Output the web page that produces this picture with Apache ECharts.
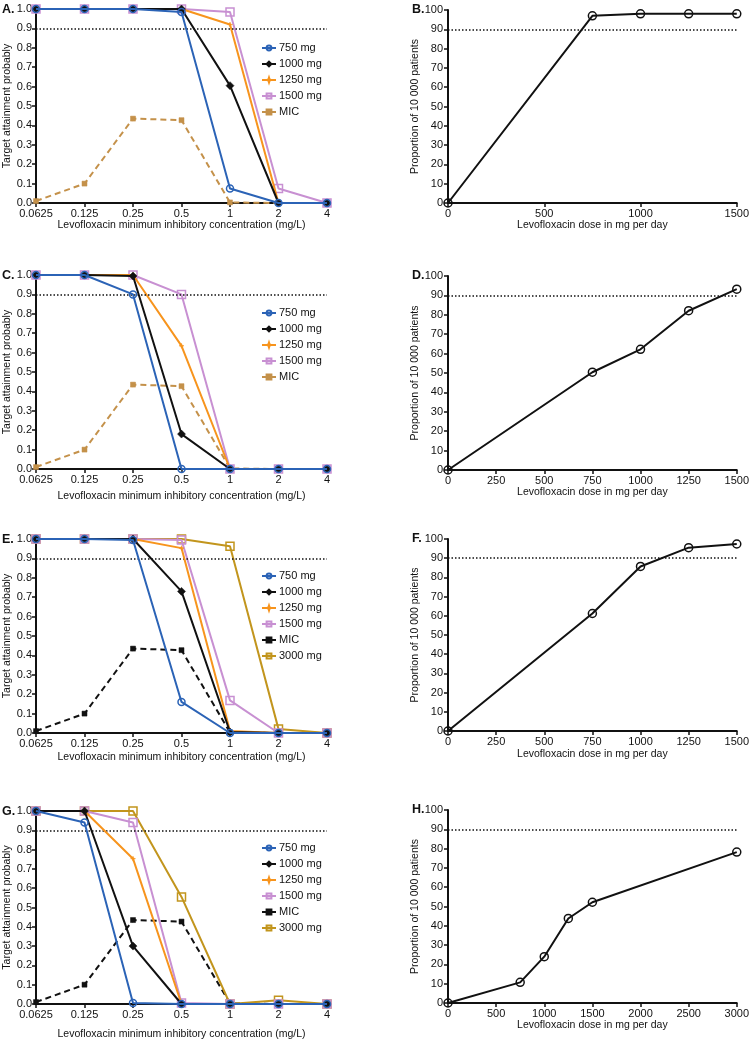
<!DOCTYPE html>
<html><head><meta charset="utf-8">
<script src="https://cdn.jsdelivr.net/npm/echarts@6/dist/echarts.min.js"></script>
<style>html,body{margin:0;padding:0;background:#fff}#c{width:752px;height:1041px}</style>
</head><body><div id="c"></div>
<script>
// ---------- DATA ----------
const micCategories = ['0.0625', '0.125', '0.25', '0.5', '1', '2', '4'];
const micDistribution = [0.01, 0.10, 0.435, 0.427, 0.003, 0, 0];

// Panel A
const a750 = [1, 1, 1, 0.985, 0.075, 0, 0];
const a1000 = [1, 1, 1, 1, 0.605, 0, 0];
const a1250 = [1, 1, 1, 1, 0.92, 0, 0];
const a1500 = [1, 1, 1, 1, 0.985, 0.075, 0];
// Panel C
const c750 = [1, 1, 0.9, 0, 0, 0, 0];
const c1000 = [1, 1, 0.995, 0.18, 0, 0, 0];
const c1250 = [1, 1, 1, 0.635, 0, 0, 0];
const c1500 = [1, 1, 1, 0.9, 0, 0, 0];
// Panel E
const e750 = [1, 1, 0.995, 0.16, 0, 0, 0];
const e1000 = [1, 1, 1, 0.73, 0.005, 0, 0];
const e1250 = [1, 1, 1, 0.953, 0.01, 0, 0];
const e1500 = [1, 1, 1, 0.995, 0.168, 0, 0];
const e3000 = [1, 1, 1, 1, 0.963, 0.02, 0];
// Panel G
const g750 = [1, 0.94, 0.005, 0, 0, 0, 0];
const g1000 = [1, 1, 0.3, 0, 0, 0, 0];
const g1250 = [1, 1, 0.753, 0, 0, 0, 0];
const g1500 = [1, 1, 0.94, 0.005, 0, 0, 0];
const g3000 = [1, 1, 1, 0.555, 0, 0.02, 0];

// Right panels: dose (mg/day) vs proportion of 10 000 patients
const doseB = [0, 750, 1000, 1250, 1500];
const propB = [0, 97, 98, 98, 98];
const doseD = [0, 750, 1000, 1250, 1500];
const propD = [0, 50.4, 62.2, 82.1, 93.2];
const doseF = [0, 750, 1000, 1250, 1500];
const propF = [0, 61.2, 85.7, 95.5, 97.4];
const doseH = [0, 750, 1000, 1250, 1500, 3000];
const propH = [0, 10.7, 24.0, 43.8, 52.2, 78.2];

const targetProb = 0.9;
const targetPct = 90;

// ---------- STYLE / LAYOUT ----------
const FONT = 'Liberation Sans, Arial, sans-serif';
const starPath = 'path://M0,-5 L1.2,-1.2 L5,0 L1.2,1.2 L0,5 L-1.2,1.2 L-5,0 L-1.2,-1.2 Z';
const styles = {
  '750 mg':  {color: '#2b63b6', symbol: 'circle', size: 7, hollow: true},
  '1000 mg': {color: '#111111', symbol: 'diamond', size: 8, hollow: false},
  '1250 mg': {color: '#f7941d', symbol: starPath, size: 5, hollow: false},
  '1500 mg': {color: '#c890d2', symbol: 'rect', size: 8, hollow: true},
  'MIC':     {color: '#c4914a', symbol: 'rect', size: 5, hollow: false, dashed: true},
  'MICk':    {color: '#111111', symbol: 'rect', size: 5, hollow: false, dashed: true},
  '3000 mg': {color: '#c2951d', symbol: 'rect', size: 8, hollow: true}
};

const leftGrids = [
  {id: 'A', top: 9, height: 194, legendTop: 42, nameGap: 15, data: [['MIC', micDistribution, 'MIC'], ['1500 mg', a1500], ['1250 mg', a1250], ['1000 mg', a1000], ['750 mg', a750]], legend: ['750 mg', '1000 mg', '1250 mg', '1500 mg', 'MIC']},
  {id: 'C', top: 275, height: 194, legendTop: 307, nameGap: 22, data: [['MIC', micDistribution, 'MIC'], ['1500 mg', c1500], ['1250 mg', c1250], ['1000 mg', c1000], ['750 mg', c750]], legend: ['750 mg', '1000 mg', '1250 mg', '1500 mg', 'MIC']},
  {id: 'E', top: 539, height: 194, legendTop: 570, nameGap: 19, data: [['MIC', micDistribution, 'MICk'], ['3000 mg', e3000], ['1500 mg', e1500], ['1250 mg', e1250], ['1000 mg', e1000], ['750 mg', e750]], legend: ['750 mg', '1000 mg', '1250 mg', '1500 mg', 'MIC', '3000 mg']},
  {id: 'G', top: 811, height: 193, legendTop: 842, nameGap: 25, data: [['MIC', micDistribution, 'MICk'], ['3000 mg', g3000], ['1500 mg', g1500], ['1250 mg', g1250], ['1000 mg', g1000], ['750 mg', g750]], legend: ['750 mg', '1000 mg', '1250 mg', '1500 mg', 'MIC', '3000 mg']}
];
const rightGrids = [
  {id: 'B', top: 10, height: 193, nameGap: 12, max: 1500, interval: 500, x: doseB, y: propB},
  {id: 'D', top: 276, height: 194, nameGap: 17, max: 1500, interval: 250, x: doseD, y: propD},
  {id: 'F', top: 539, height: 192, nameGap: 18, max: 1500, interval: 250, x: doseF, y: propF},
  {id: 'H', top: 810, height: 193, nameGap: 11, max: 3000, interval: 500, x: doseH, y: propH}
];

const axisLine = {show: true, lineStyle: {color: '#111', width: 2}};
const axisTick = {show: true, inside: false, length: 4, lineStyle: {color: '#111', width: 1.5}};
const tickLabel = {color: '#111', fontSize: 11, fontFamily: FONT};
const nameStyle = {color: '#111', fontSize: 10.5, fontFamily: FONT};
const dotted = {color: '#111', width: 1.5, type: [1.5, 2]};

const grid = [], xAxis = [], yAxis = [], series = [], legend = [], title = [];
let gi = 0;

leftGrids.forEach(p => {
  grid.push({left: 36, width: 291, top: p.top, height: p.height});
  xAxis.push({type: 'category', gridIndex: gi, data: micCategories, boundaryGap: false,
    axisLine, axisTick, splitLine: {show: false},
    axisLabel: Object.assign({interval: 0, margin: 5}, tickLabel),
    name: 'Levofloxacin minimum inhibitory concentration (mg/L)', nameLocation: 'middle', nameGap: p.nameGap, nameTextStyle: nameStyle});
  yAxis.push({type: 'value', gridIndex: gi, min: 0, max: 1, interval: 0.1,
    axisLine, axisTick, splitLine: {show: false},
    axisLabel: Object.assign({margin: 4, formatter: v => v.toFixed(1)}, tickLabel),
    name: 'Target attainment probably', nameLocation: 'middle', nameGap: 20, nameTextStyle: nameStyle});
  p.data.forEach((d, k) => {
    const st = styles[d[2] || d[0]];
    const s = {
      type: 'line', name: d[0] + '|' + p.id, xAxisIndex: gi, yAxisIndex: gi, data: d[1],
      symbol: st.symbol, symbolSize: st.size, showAllSymbol: true, clip: false,
      lineStyle: {color: st.color, width: 2, type: st.dashed ? [6, 4] : 'solid'},
      itemStyle: st.hollow ? {color: 'rgba(255,255,255,0)', borderColor: st.color, borderWidth: 1.5} : {color: st.color, borderColor: st.color, borderWidth: 0.5},
      emphasis: {disabled: true}, animation: false, z: 2 + k
    };
    if (k === 0) {
      s.markLine = {silent: true, symbol: ['none', 'none'], label: {show: false}, lineStyle: dotted,
        data: [{yAxis: targetProb}], animation: false};
    }
    series.push(s);
  });
  legend.push({orient: 'vertical', left: 261, top: p.legendTop, padding: 0, itemGap: 4,
    itemWidth: 14, itemHeight: 6, selectedMode: false,
    data: p.legend.map(n => n + '|' + p.id),
    formatter: n => n.split('|')[0],
    textStyle: {color: '#111', fontSize: 11, fontFamily: FONT, lineHeight: 12, padding: [0, 0, 0, -2]}});
  title.push({text: p.id + '.', left: 2, top: p.top - 6, padding: 0, textStyle: {fontSize: 12.5, fontWeight: 'bold', color: '#111', fontFamily: FONT}});
  gi++;
});

rightGrids.forEach(p => {
  grid.push({left: 448, width: 290, top: p.top, height: p.height});
  xAxis.push({type: 'value', gridIndex: gi, min: 0, max: p.max, interval: p.interval,
    axisLine, axisTick, splitLine: {show: false},
    axisLabel: Object.assign({margin: 5, formatter: v => String(v)}, tickLabel),
    name: 'Levofloxacin dose in mg per day', nameLocation: 'middle', nameGap: p.nameGap, nameTextStyle: nameStyle});
  yAxis.push({type: 'value', gridIndex: gi, min: 0, max: 100, interval: 10,
    axisLine, axisTick, splitLine: {show: false},
    axisLabel: Object.assign({margin: 5, formatter: v => String(v)}, tickLabel),
    name: 'Proportion of 10 000 patients', nameLocation: 'middle', nameGap: 20, nameTextStyle: nameStyle});
  series.push({
    type: 'line', name: 'prop|' + p.id, xAxisIndex: gi, yAxisIndex: gi,
    data: p.x.map((v, i) => [v, p.y[i]]),
    symbol: 'circle', symbolSize: 8, clip: false,
    lineStyle: {color: '#111', width: 2},
    itemStyle: {color: 'rgba(255,255,255,0)', borderColor: '#111', borderWidth: 1.5},
    emphasis: {disabled: true}, animation: false,
    markLine: {silent: true, symbol: ['none', 'none'], label: {show: false}, lineStyle: dotted,
      data: [{yAxis: targetPct}], animation: false}
  });
  title.push({text: p.id + '.', left: 412, top: p.top - 7, padding: 0, textStyle: {fontSize: 12.5, fontWeight: 'bold', color: '#111', fontFamily: FONT}});
  gi++;
});

const chart = echarts.init(document.getElementById('c'), null, {renderer: 'canvas'});
chart.setOption({backgroundColor: '#fff', animation: false, textStyle: {fontFamily: FONT},
  title, grid, xAxis, yAxis, series, legend});
</script>
</body></html>
